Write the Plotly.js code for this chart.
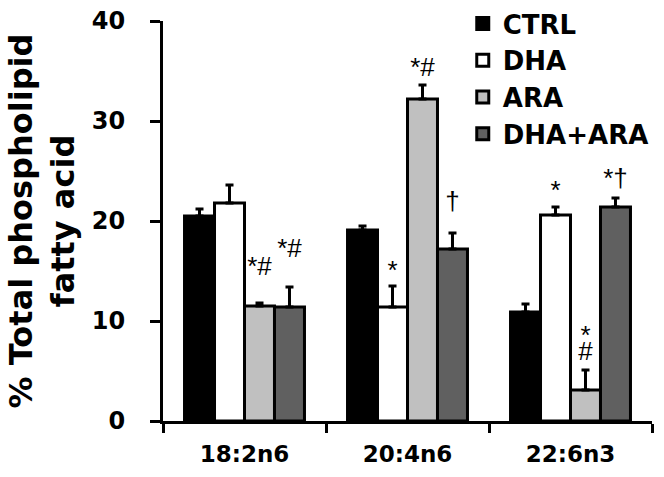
<!DOCTYPE html>
<html>
<head>
<meta charset="utf-8">
<script src="https://cdn.plot.ly/plotly-3.0.1.min.js"></script>
<style>html,body{margin:0;padding:0;background:#fff;}#chart{width:664px;height:477px;}</style>
</head>
<body>
<div id="chart"></div>
<script>
// ---- data ----
const categories = ["18:2n6", "20:4n6", "22:6n3"];
const seriesNames = ["CTRL", "DHA", "ARA", "DHA+ARA"];
const ctrlValues   = [20.5, 19.1, 10.9];
const dhaValues    = [21.8, 11.4, 20.6];
const araValues    = [11.5, 32.2, 3.1];
const dhaAraValues = [11.4, 17.2, 21.4];
const ctrlErr   = [0.7, 0.4, 0.8];
const dhaErr    = [1.8, 2.1, 0.8];
const araErr    = [0.3, 1.4, 2.0];
const dhaAraErr = [2.0, 1.6, 0.9];
// significance marks and their heights
const ctrlMarks   = ["", "", ""];
const dhaMarks    = ["", "*", "*"];
const araMarks    = ["*#", "*#", "*"];
const dhaAraMarks = ["*#", "\u2020", "*\u2020"];
const ctrlMarkY   = [0, 0, 0];
const dhaMarkY    = [0, 14.9, 22.9];
const araMarkY    = [15.3, 35.2, 8.4];
const dhaAraMarkY = [17.1, 21.8, 24.1];
const araMarks2   = ["", "", "#"];
const araMark2Y   = [0, 0, 6.8];

// ---- styles ----
const fills = ["#000000", "#ffffff", "#c0c0c0", "#606060"];
const values = [ctrlValues, dhaValues, araValues, dhaAraValues];
const errs = [ctrlErr, dhaErr, araErr, dhaAraErr];
const marks = [ctrlMarks, dhaMarks, araMarks, dhaAraMarks];
const markY = [ctrlMarkY, dhaMarkY, araMarkY, dhaAraMarkY];
const FONT = "DejaVu Sans, sans-serif";
const MARKFONT = {family: "Liberation Sans, Arial, sans-serif", size: 26, color: "#000"};

const traces = [];
seriesNames.forEach((name, i) => {
  traces.push({
    type: "bar", name: name, x: categories, y: values[i],
    offsetgroup: "g" + i, alignmentgroup: "a", legendgroup: "lg" + i,
    marker: {color: fills[i], line: {color: "#000", width: 3}},
    error_y: {type: "data", symmetric: false, array: errs[i], arrayminus: errs[i].map(() => 0),
              color: "#000", thickness: 3, width: 4},
    hoverinfo: "skip"
  });
});
seriesNames.forEach((name, i) => {
  traces.push({
    type: "scatter", mode: "text", x: categories, y: markY[i], text: marks[i],
    offsetgroup: "g" + i, alignmentgroup: "a", showlegend: false,
    textposition: "middle center", textfont: MARKFONT, hoverinfo: "skip", cliponaxis: false
  });
});
traces.push({
  type: "scatter", mode: "text", x: categories, y: araMark2Y, text: araMarks2,
  offsetgroup: "g2", alignmentgroup: "a", showlegend: false,
  textposition: "middle center", textfont: MARKFONT, hoverinfo: "skip", cliponaxis: false
});

const layout = {
  width: 664, height: 477,
  margin: {l: 163, r: 12, t: 21, b: 56, autoexpand: false},
  paper_bgcolor: "#fff", plot_bgcolor: "#fff",
  barmode: "group", scattermode: "group", bargap: 0.264, bargroupgap: 0,
  font: {family: FONT, color: "#000"},
  showlegend: true,
  legend: {x: 0.613, xanchor: "left", yref: "container", y: 1.0, yanchor: "top", bgcolor: "rgba(0,0,0,0)",
           font: {family: FONT, size: 26, color: "#000", weight: "bold"}, tracegroupgap: 12,
           traceorder: "normal"},
  xaxis: {type: "category", showline: true, linecolor: "#000", linewidth: 3,
          ticks: "outside", tickson: "boundaries", ticklen: 9, tickwidth: 3, tickcolor: "#000",
          tickfont: {family: FONT, size: 23, weight: "bold", color: "#000"},
          ticklabelstandoff: 10,
          showgrid: false, zeroline: false, fixedrange: true},
  yaxis: {range: [0, 40], tickvals: [0, 10, 20, 30, 40], showline: true, linecolor: "#000", linewidth: 3,
          ticks: "outside", ticklen: 10, tickwidth: 3, tickcolor: "#000",
          tickfont: {family: FONT, size: 24, weight: "bold", color: "#000"},
          ticklabelstandoff: 20,
          showgrid: false, zeroline: false, fixedrange: true,
          title: {text: "% Total phospholipid<br>fatty acid", standoff: 8,
                  font: {family: FONT, size: 32, weight: "bold", color: "#000"}}}
};
Plotly.newPlot("chart", traces, layout, {displayModeBar: false, staticPlot: true});
</script>
</body>
</html>
